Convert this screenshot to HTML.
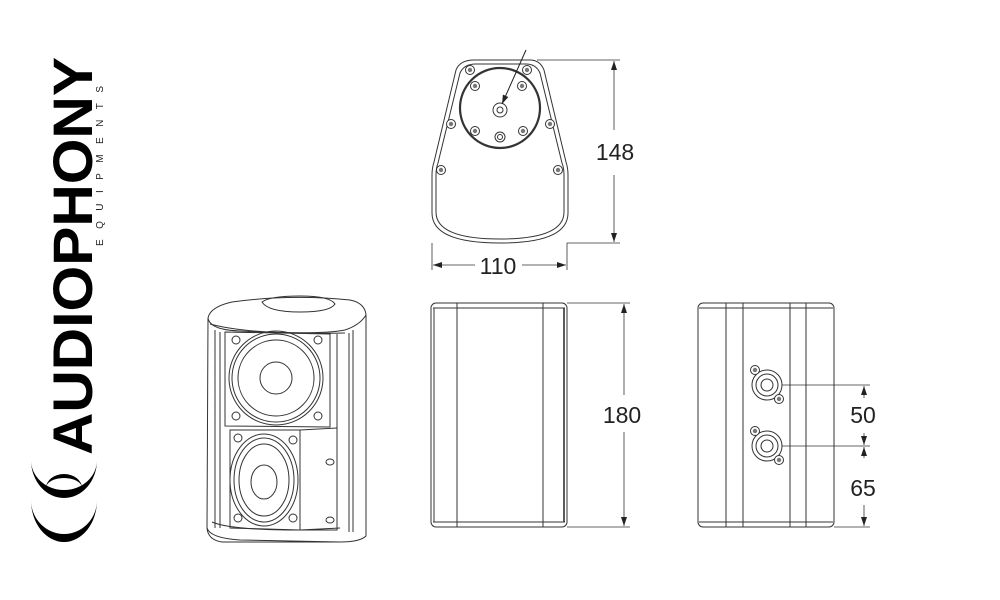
<!DOCTYPE html>
<html><head><meta charset="utf-8"><style>
html,body{margin:0;padding:0;background:#fff;width:1000px;height:600px;overflow:hidden}
svg{display:block}
text{font-family:"Liberation Sans",sans-serif}
</style></head><body>
<svg width="1000" height="600" viewBox="0 0 1000 600" xmlns="http://www.w3.org/2000/svg">
<defs>
<marker id="ar" markerWidth="10" markerHeight="8" refX="9" refY="4" orient="auto" markerUnits="userSpaceOnUse"><path d="M0,1 L9,4 L0,7 Z" fill="#222"/></marker>
<g id="scr"><circle r="4.5" fill="#fff" stroke="#333" stroke-width="1"/><circle r="2.2" fill="#777"/></g>
</defs>

<!-- Logo -->
<text transform="translate(92,455) rotate(-90)" font-size="56" font-weight="bold" textLength="398" lengthAdjust="spacingAndGlyphs" fill="#000">AUDIOPHONY</text>
<text transform="translate(103,246) rotate(-90)" font-size="10" textLength="160" lengthAdjust="spacing" fill="#222">EQUIPMENTS</text>
<path d="M31,460 A33,38 0 0 0 97,460 A33,30 0 0 1 31,460 Z" fill="#000"/>
<path d="M46,488 A18,14 0 0 1 82,488 A18,10 0 0 0 46,488 Z" fill="#000"/>
<path d="M31,500 A33,42 0 0 0 97,500 A33,34 0 0 1 31,500 Z" fill="#000"/>

<!-- Top view -->
<g fill="none" stroke="#333" stroke-width="1">
<path d="M474,60 L530,60 Q540,60 544,70 L566,162 Q568,168 568,175 L568,213 Q568,243 500,243 Q432,243 432,213 L432,175 Q432,168 434,162 L456,70 Q460,60 474,60 Z"/>
<path d="M476,64 L526,64 Q536,64 540,73 L562,163 Q564,168 564,175 L564,212 Q564,239 500,239 Q436,239 436,212 L436,175 Q436,168 438,163 L460,73 Q464,64 476,64 Z"/>
<circle cx="500" cy="108" r="40" stroke-width="2.2"/>
<circle cx="500" cy="110" r="7"/><circle cx="500" cy="110" r="3"/>
<circle cx="500" cy="137" r="5"/><circle cx="500" cy="137" r="2.5"/>
</g>
<use href="#scr" x="470" y="70"/><use href="#scr" x="527" y="70"/>
<use href="#scr" x="475" y="86"/><use href="#scr" x="522" y="86"/>
<use href="#scr" x="451" y="124"/><use href="#scr" x="550" y="124"/>
<use href="#scr" x="475" y="131"/><use href="#scr" x="523" y="131"/>
<use href="#scr" x="441" y="170"/><use href="#scr" x="558" y="170"/>
<line x1="526" y1="50" x2="502" y2="104" stroke="#222" stroke-width="1" marker-end="url(#ar)"/>
<g stroke="#333" stroke-width="0.8">
<line x1="537" y1="60" x2="620" y2="60"/><line x1="567" y1="243" x2="620" y2="243"/>
<line x1="432" y1="243" x2="432" y2="270"/><line x1="567" y1="243" x2="567" y2="270"/>
<line x1="614" y1="130" x2="614" y2="61" marker-end="url(#ar)"/>
<line x1="614" y1="175" x2="614" y2="242" marker-end="url(#ar)"/>
<line x1="475" y1="265" x2="433" y2="265" marker-end="url(#ar)"/>
<line x1="522" y1="265" x2="566" y2="265" marker-end="url(#ar)"/>
</g>
<text x="615" y="160" font-size="23" text-anchor="middle" fill="#222">148</text>
<text x="498" y="274" font-size="23" text-anchor="middle" fill="#222">110</text>

<!-- Iso view -->
<g fill="none" stroke="#333" stroke-width="1">
<path d="M208,318 Q210,307 232,302 Q290,294 350,300 Q365,303 366,315 L366,536 Q360,542 340,542 L222,542 Q208,540 207,528 Z" fill="#fff"/>
<path d="M208,318 Q210,330 240,331 Q320,335 345,330 Q360,325 366,315"/>
<path d="M210,324 Q250,335 345,333"/>
<line x1="215" y1="330" x2="215" y2="528"/><line x1="220" y1="332" x2="220" y2="528"/>
<line x1="349" y1="333" x2="349" y2="532"/><line x1="353" y1="330" x2="353" y2="532"/>
<line x1="337" y1="334" x2="337" y2="528"/>
<path d="M225,332 L330,334 L330,427 L225,426 Z"/>
<circle cx="276" cy="378" r="47"/><circle cx="276" cy="378" r="44"/><circle cx="276" cy="378" r="38"/>
<circle cx="276" cy="378" r="16"/>
<path d="M230,430 L300,430 L300,530 L230,528 Z"/>
<path d="M300,430 L337,428 L337,530 L300,530"/>
<ellipse cx="264" cy="480" rx="34" ry="46"/><ellipse cx="264" cy="480" rx="30" ry="42"/><ellipse cx="264" cy="480" rx="25" ry="36"/>
<ellipse cx="264" cy="482" rx="13" ry="17"/>
<path d="M207,528 Q210,538 240,540 L340,542" />
<path d="M212,522 Q230,530 300,530 L340,528"/>
<path d="M262,302 Q270,296 300,296 Q330,296 335,304 Q330,312 300,312 Q268,312 262,302 Z"/>
<circle cx="236" cy="340" r="4"/><circle cx="318" cy="340" r="4"/><circle cx="236" cy="416" r="4"/><circle cx="318" cy="416" r="4"/>
<circle cx="238" cy="438" r="4"/><circle cx="293" cy="440" r="4"/><circle cx="238" cy="518" r="4"/><circle cx="293" cy="518" r="4"/>
<ellipse cx="330" cy="462" rx="4" ry="3"/><ellipse cx="330" cy="520" rx="4" ry="3"/>
</g>

<!-- Front view -->
<g fill="none" stroke="#333" stroke-width="1">
<rect x="431" y="303" width="136" height="224" rx="5"/>
<line x1="433" y1="308" x2="565" y2="308"/><line x1="433" y1="522" x2="565" y2="522"/>
<line x1="434" y1="308" x2="434" y2="522"/><line x1="564" y1="308" x2="564" y2="522" stroke-width="1.6"/>
<line x1="457" y1="303" x2="457" y2="527"/><line x1="543" y1="303" x2="543" y2="527"/>
</g>
<g stroke="#333" stroke-width="0.8">
<line x1="567" y1="303" x2="630" y2="303"/><line x1="567" y1="527" x2="630" y2="527"/>
<line x1="624" y1="395" x2="624" y2="304" marker-end="url(#ar)"/>
<line x1="624" y1="432" x2="624" y2="526" marker-end="url(#ar)"/>
</g>
<text x="622" y="423" font-size="23" text-anchor="middle" fill="#222">180</text>

<!-- Side view -->
<g fill="none" stroke="#333" stroke-width="1">
<rect x="698" y="303" width="136" height="224" rx="5"/>
<line x1="699" y1="308" x2="833" y2="308"/><line x1="699" y1="522" x2="833" y2="522"/>
<line x1="726" y1="303" x2="726" y2="527"/><line x1="743" y1="303" x2="743" y2="527"/>
<line x1="790" y1="303" x2="790" y2="527"/><line x1="806" y1="303" x2="806" y2="527"/>
<circle cx="767" cy="385" r="15"/><circle cx="767" cy="385" r="11"/><circle cx="767" cy="385" r="6"/>
<circle cx="767" cy="446" r="15"/><circle cx="767" cy="446" r="11"/><circle cx="767" cy="446" r="6"/>
</g>
<use href="#scr" x="755" y="370"/><use href="#scr" x="779" y="399"/>
<use href="#scr" x="755" y="431"/><use href="#scr" x="779" y="460"/>
<g stroke="#333" stroke-width="0.8">
<line x1="782" y1="385" x2="870" y2="385"/><line x1="782" y1="446" x2="870" y2="446"/>
<line x1="834" y1="527" x2="870" y2="527"/>
<line x1="864" y1="398" x2="864" y2="386" marker-end="url(#ar)"/>
<line x1="864" y1="433" x2="864" y2="445" marker-end="url(#ar)"/>
<line x1="864" y1="458" x2="864" y2="447" marker-end="url(#ar)"/>
<line x1="864" y1="505" x2="864" y2="526" marker-end="url(#ar)"/>
</g>
<text x="863" y="423" font-size="23" text-anchor="middle" fill="#222">50</text>
<text x="863" y="496" font-size="23" text-anchor="middle" fill="#222">65</text>
</svg>
</body></html>
